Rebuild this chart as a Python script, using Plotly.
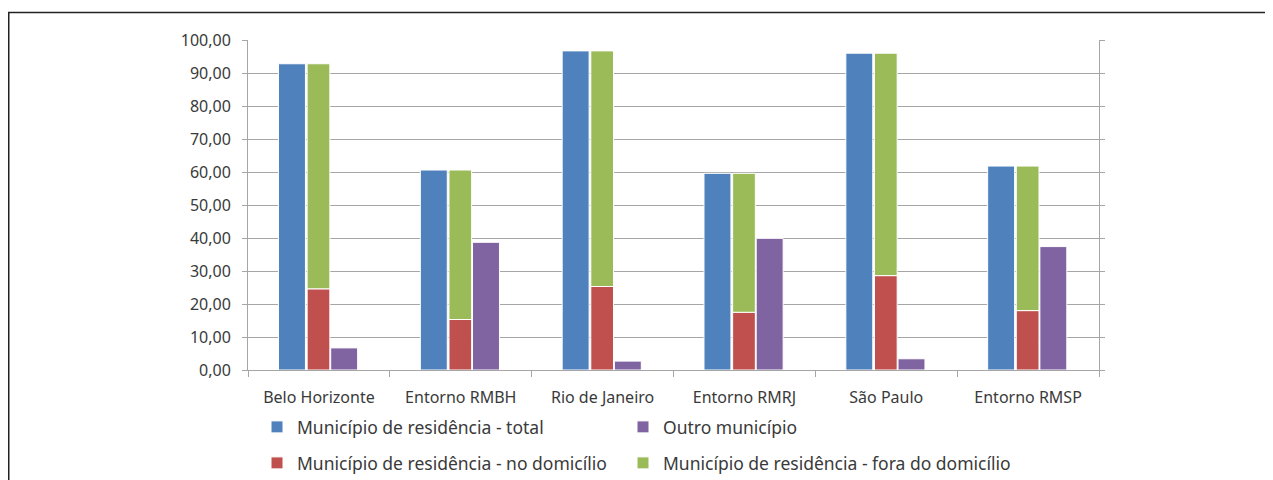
import plotly.graph_objects as go

categories = ["Belo Horizonte", "Entorno RMBH", "Rio de Janeiro", "Entorno RMRJ", "São Paulo", "Entorno RMSP"]
total = [92.8, 60.6, 96.7, 59.6, 96.0, 61.8]
no_domicilio = [24.6, 15.3, 25.3, 17.5, 28.6, 18.0]
fora_domicilio = [68.2, 45.3, 71.4, 42.1, 67.4, 43.8]
outro = [6.7, 38.7, 2.7, 39.9, 3.4, 37.4]

names = ["Município de residência - total", "Outro município",
         "Município de residência - no domicílio", "Município de residência - fora do domicílio"]
colors = {"blue": "#4F81BD", "red": "#C0504D", "green": "#9BBB59", "purple": "#8064A2"}

W, H = 1257, 540
L, R, T, B = 240, 1091, 32, 362
pw, ph = R - L, B - T

font = dict(family="Noto Sans", size=16, color="#3a3a3a")
legfont = dict(family="Noto Sans", size=17.5, color="#3a3a3a")
line = dict(color="white", width=1)

fig = go.Figure()
fig.add_trace(go.Bar(x=categories, y=total, name=names[0], marker=dict(color=colors["blue"], line=line),
                     offset=-0.285, width=0.19, legend="legend"))
fig.add_trace(go.Bar(x=categories, y=outro, name=names[1], marker=dict(color=colors["purple"], line=line),
                     offset=0.083, width=0.19, legend="legend3"))
fig.add_trace(go.Bar(x=categories, y=no_domicilio, name=names[2], marker=dict(color=colors["red"], line=line),
                     offset=-0.083, width=0.16, legend="legend2"))
fig.add_trace(go.Bar(x=categories, y=fora_domicilio, base=no_domicilio, name=names[3],
                     marker=dict(color=colors["green"], line=line),
                     offset=-0.083, width=0.16, legend="legend4"))

axcol = "#a6a6a6"
leg_common = dict(orientation="h", xanchor="left", yanchor="middle", font=legfont,
                  bgcolor="rgba(0,0,0,0)")
lx1 = (249 - L) / pw
lx2 = (615 - L) / pw
ly1 = -57 / ph
ly2 = -93 / ph
fig.update_layout(
    width=W, height=H,
    margin=dict(l=L, r=W - R, t=T, b=H - B, pad=0, autoexpand=False),
    barmode="overlay",
    separators=",.",
    paper_bgcolor="white", plot_bgcolor="white",
    font=font,
    showlegend=True,
    legend=dict(x=lx1, y=ly1, **leg_common),
    legend2=dict(x=lx1, y=ly2, **leg_common),
    legend3=dict(x=lx2, y=ly1, **leg_common),
    legend4=dict(x=lx2, y=ly2, **leg_common),
    xaxis=dict(showline=True, linecolor=axcol, linewidth=1, ticks="outside", ticklen=6,
               tickcolor=axcol, tickson="boundaries", showgrid=False, ticklabelstandoff=13,
               tickfont=font),
    yaxis=dict(range=[0, 100], dtick=10, tickformat=".2f", showgrid=True, gridcolor=axcol,
               gridwidth=1, showline=True, linecolor=axcol, linewidth=1, ticks="outside",
               ticklen=5, tickcolor=axcol, mirror="ticks", zeroline=False,
               ticklabelstandoff=8, tickfont=font),
    shapes=[
        dict(type="line", xref="paper", yref="paper", x0=(0 - L) / pw, x1=(W + 10 - L) / pw,
             y0=(B - 4.5) / ph, y1=(B - 4.5) / ph, line=dict(color="#222222", width=1.5)),
        dict(type="line", xref="paper", yref="paper", x0=(0.75 - L) / pw, x1=(0.75 - L) / pw,
             y0=(B - 4.5) / ph, y1=(B - H - 10) / ph, line=dict(color="#222222", width=1.5)),
    ],
)

fig.write_html("out.html")
